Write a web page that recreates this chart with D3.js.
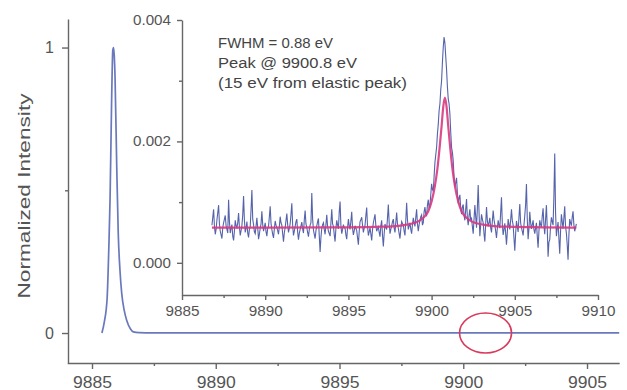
<!DOCTYPE html>
<html>
<head>
<meta charset="utf-8">
<script src="https://cdn.jsdelivr.net/npm/d3@7"></script>
<style>
  html, body { margin: 0; padding: 0; background: #fff; }
  svg { display: block; font-family: "Liberation Sans", Arial, sans-serif; }
  .axis path, .axis line { stroke: #666; stroke-width: 1.4; }
  .axis text { fill: #555; }
</style>
</head>
<body>
<script>
// main spectrum (elastic peak), normalized intensity
const mainEnergy = [9885.40, 9885.50, 9885.61, 9885.68, 9885.73, 9885.79, 9885.84, 9885.87, 9885.90, 9885.93,
  9886.00, 9886.06, 9886.13, 9886.20, 9886.30, 9886.40, 9886.55, 9886.67, 9886.90, 9887.50, 9890.00, 9906.30];
const mainIntensity = [0.0, 0.04, 0.12, 0.30, 0.47, 0.80, 0.99, 1.0, 0.97, 0.90,
  0.58, 0.35, 0.22, 0.14, 0.08, 0.045, 0.015, 0.004, 0.0015, 0.0008, 0.0006, 0.0006];

// inset: measured counts (units of 1e-5), energies 9886.8 .. 9908.7 every 0.05 eV, one row per eV
const insetStart = 9886.8;
const insetStep = 0.05;
const insetCounts = [
  62, 75, 88, 60, 47, 55, 71, 83, 95, 64, 52, 46, 40, 58, 66, 72, 78, 61, 55, 49,
  104, 68, 49, 57, 63, 44, 37, 52, 70, 61, 58, 66, 82, 59, 45, 53, 61, 79, 110, 70,
  50, 57, 68, 49, 42, 55, 59, 88, 120, 72, 63, 51, 48, 60, 74, 58, 39, 47, 57, 64,
  85, 63, 52, 59, 66, 51, 44, 57, 60, 76, 93, 65, 55, 47, 41, 56, 69, 62, 58, 53,
  47, 60, 76, 66, 62, 48, 35, 50, 58, 70, 81, 63, 50, 57, 64, 80, 98, 62, 45, 52,
  60, 68, 72, 51, 38, 49, 55, 61, 67, 56, 49, 71, 86, 64, 58, 50, 43, 55, 62, 66,
  115, 72, 54, 47, 40, 53, 61, 68, 73, 44, 18, 42, 57, 63, 66, 55, 47, 63, 79, 60,
  52, 48, 44, 66, 88, 64, 60, 46, 35, 57, 70, 62, 56, 84, 101, 61, 48, 55, 63, 58,
  57, 46, 39, 58, 72, 61, 55, 69, 84, 57, 46, 53, 61, 57, 53, 41, 30, 52, 68, 71,
  75, 62, 50, 57, 62, 78, 91, 60, 45, 51, 58, 47, 37, 55, 66, 73, 80, 61, 52, 56,
  59, 50, 43, 61, 70, 45, 27, 48, 64, 58, 55, 74, 96, 66, 48, 55, 61, 68, 72, 57,
  50, 67, 83, 64, 57, 48, 40, 56, 68, 65, 62, 52, 45, 70, 99, 71, 55, 61, 66, 55,
  48, 63, 74, 66, 60, 75, 88, 64, 52, 63, 70, 76, 79, 62, 66, 84, 92, 80, 78, 95,
  104, 90, 95, 112, 130, 121, 118, 142, 165, 178, 190, 212, 228, 250, 262, 285, 300, 330, 355, 372,
  362, 340, 318, 290, 270, 262, 245, 215, 190, 182, 168, 140, 125, 132, 140, 115, 98, 106, 112, 90,
  80, 92, 96, 78, 70, 88, 105, 74, 62, 78, 88, 70, 73, 60, 48, 72, 95, 76, 58, 90,
  128, 84, 44, 62, 80, 72, 66, 48, 35, 64, 92, 70, 60, 66, 74, 58, 50, 68, 86, 71,
  63, 52, 41, 57, 70, 62, 57, 83, 108, 64, 46, 55, 65, 49, 30, 50, 72, 63, 55, 70,
  88, 70, 62, 41, 20, 48, 69, 60, 51, 75, 97, 66, 58, 52, 45, 62, 78, 96, 130, 72,
  39, 56, 84, 66, 56, 63, 70, 55, 48, 57, 66, 44, 25, 52, 70, 63, 59, 77, 90, 62,
  47, 72, 95, 58, 10, 34, 38, 60, 75, 68, 62, 110, 180, 82, 44, 57, 67, 40, 15, 52,
  80, 68, 56, 74, 93, 60, 49, 30, 5, 45, 72, 66, 61, 75, 85, 63, 52, 58, 64
];

// inset: fitted curve (units of 1e-5)
const fitEnergy = [9886.8, 9890, 9895, 9897, 9898, 9898.5, 9899, 9899.3, 9899.6, 9899.8, 9900.0, 9900.2,
  9900.35, 9900.5, 9900.6, 9900.7, 9900.8, 9900.9, 9901.0, 9901.1, 9901.25, 9901.4, 9901.6,
  9901.8, 9902.0, 9902.3, 9902.6, 9903.1, 9903.6, 9904.6, 9906.6, 9908.7];
const fitCounts = [58, 58, 58.5, 59.5, 61, 63, 66, 70, 77, 85, 101, 127,
  155, 195, 225, 257, 272, 257, 225, 195, 155, 127, 101,
  85, 77, 70, 66, 63, 61, 59.5, 58.5, 58];

const mainXTicks = [9885, 9890, 9895, 9900, 9905];
const mainXMinor = [9887.5, 9892.5, 9897.5, 9902.5];
const mainYTicks = [0, 1];
const mainYMinor = [0.5];
const insetXTicks = [9885, 9890, 9895, 9900, 9905, 9910];
const insetXMinor = [9887.5, 9892.5, 9897.5, 9902.5, 9907.5];
const insetYTicks = [0, 0.002, 0.004];
const insetYMinor = [0.001, 0.003];
const notes = ["FWHM = 0.88 eV", "Peak @ 9900.8 eV", "(15 eV from elastic peak)"];
const noteWidths = [115, 139, 189];
const circledEnergy = 9900.9;

const width = 627, height = 390;
const countUnit = 1e-5;

const svg = d3.select("body").append("svg")
  .attr("width", width)
  .attr("height", height);

// soft edge like the scanned figure
svg.append("defs").append("filter")
  .attr("id", "soft")
  .append("feGaussianBlur")
  .attr("stdDeviation", 0.4);

// ---- main plot ----
const x = d3.scaleLinear().domain([9884, 9906.3]).range([67.25, 619.2]);
const y = d3.scaleLinear().domain([-0.105, 1.1]).range([363, 19]);

svg.append("g")
  .attr("class", "axis")
  .attr("transform", "translate(0,363)")
  .call(d3.axisBottom(x).tickValues(mainXTicks).tickSize(6).tickSizeOuter(0).tickPadding(8).tickFormat(d3.format("d")))
  .call(g => g.selectAll("text").attr("font-size", 16).attr("textLength", 39).attr("lengthAdjust", "spacingAndGlyphs"));
svg.append("g")
  .attr("class", "axis")
  .attr("transform", "translate(0,363)")
  .call(d3.axisBottom(x).tickValues(mainXMinor).tickSize(3).tickFormat(""))
  .call(g => g.select(".domain").remove());

svg.append("g")
  .attr("class", "axis")
  .attr("transform", "translate(68,0)")
  .call(d3.axisLeft(y).tickValues(mainYTicks).tickSize(6).tickSizeOuter(0).tickPadding(8).tickFormat(d3.format("d")))
  .call(g => g.selectAll("text").attr("font-size", 16));
svg.append("g")
  .attr("class", "axis")
  .attr("transform", "translate(68,0)")
  .call(d3.axisLeft(y).tickValues(mainYMinor).tickSize(3).tickFormat(""))
  .call(g => g.select(".domain").remove());

svg.append("text")
  .attr("transform", "translate(30,196) rotate(-90)")
  .attr("text-anchor", "middle")
  .attr("font-size", 17)
  .attr("fill", "#555")
  .attr("textLength", 205)
  .attr("lengthAdjust", "spacingAndGlyphs")
  .text("Normalized Intensity");

const mainLine = d3.line()
  .x((d, i) => x(mainEnergy[i]))
  .y(d => y(d))
  .curve(d3.curveMonotoneX);

svg.append("path")
  .datum(mainIntensity)
  .attr("d", mainLine)
  .attr("fill", "none")
  .attr("stroke", "#5060b0")
  .attr("stroke-opacity", 0.85)
  .attr("stroke-width", 1.7)
  .attr("filter", "url(#soft)");

svg.append("ellipse")
  .attr("cx", x(circledEnergy))
  .attr("cy", y(0))
  .attr("rx", 26)
  .attr("ry", 20)
  .attr("fill", "none")
  .attr("stroke", "#d83a5c")
  .attr("stroke-width", 1.6);

// ---- inset ----
const ix = d3.scaleLinear().domain([9885, 9910]).range([182, 598]);
const iy = d3.scaleLinear().domain([-0.00053, 0.004]).range([295, 20]);

svg.append("g")
  .attr("class", "axis")
  .attr("transform", "translate(0,295)")
  .call(d3.axisBottom(ix).tickValues(insetXTicks).tickSize(5).tickSizeOuter(0).tickPadding(6).tickFormat(d3.format("d")))
  .call(g => g.selectAll("text").attr("font-size", 14).attr("textLength", 34).attr("lengthAdjust", "spacingAndGlyphs"));
svg.append("g")
  .attr("class", "axis")
  .attr("transform", "translate(0,295)")
  .call(d3.axisBottom(ix).tickValues(insetXMinor).tickSize(3).tickFormat(""))
  .call(g => g.select(".domain").remove());

svg.append("g")
  .attr("class", "axis")
  .attr("transform", "translate(182,0)")
  .call(d3.axisLeft(iy).tickValues(insetYTicks).tickSize(5).tickSizeOuter(0).tickPadding(6).tickFormat(d3.format(".3f")))
  .call(g => g.selectAll("text").attr("font-size", 14).attr("textLength", 38).attr("lengthAdjust", "spacingAndGlyphs"));
svg.append("g")
  .attr("class", "axis")
  .attr("transform", "translate(182,0)")
  .call(d3.axisLeft(iy).tickValues(insetYMinor).tickSize(3).tickFormat(""))
  .call(g => g.select(".domain").remove());

const dataLine = d3.line()
  .x((d, i) => ix(insetStart + i * insetStep))
  .y(d => iy(d * countUnit));

svg.append("path")
  .datum(insetCounts)
  .attr("d", dataLine)
  .attr("fill", "none")
  .attr("stroke", "#2a3c96")
  .attr("stroke-opacity", 0.8)
  .attr("stroke-width", 1.1);

const fitLine = d3.line()
  .x((d, i) => ix(fitEnergy[i]))
  .y(d => iy(d * countUnit))
  .curve(d3.curveMonotoneX);

svg.append("path")
  .datum(fitCounts)
  .attr("d", fitLine)
  .attr("fill", "none")
  .attr("stroke", "#d8387f")
  .attr("stroke-opacity", 0.9)
  .attr("stroke-width", 2.2);

svg.append("g")
  .selectAll("text")
  .data(notes)
  .enter().append("text")
  .attr("x", 218)
  .attr("y", (d, i) => 47.5 + i * 20)
  .attr("font-size", 14)
  .attr("fill", "#444")
  .attr("textLength", (d, i) => noteWidths[i])
  .attr("lengthAdjust", "spacingAndGlyphs")
  .text(d => d);
</script>
</body>
</html>
